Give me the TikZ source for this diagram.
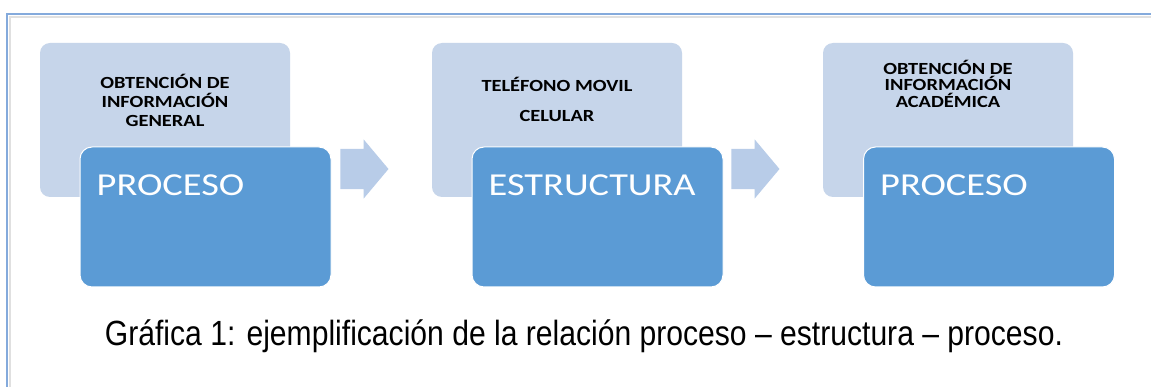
\documentclass[tikz,border=0pt]{standalone}
\usepackage{fontspec}
\usetikzlibrary{positioning,shapes.arrows}
\newfontfamily\calibfont[FakeStretch=1.2]{Carlito}
\newfontfamily\captfont[FakeStretch=0.86]{Liberation Sans}
\definecolor{litefill}{RGB}{198,213,234}
\definecolor{darkfill}{RGB}{91,155,213}
\definecolor{arrowfill}{RGB}{184,204,232}
\definecolor{framecol}{RGB}{132,170,220}
\tikzset{
  litebox/.style={fill=litefill, rounded corners=10pt, minimum width=250pt, minimum height=154pt, inner sep=0pt},
  darkbox/.style={fill=darkfill, draw=white, line width=1pt, rounded corners=12pt, minimum width=251pt, minimum height=140pt, inner sep=0pt},
  litetext/.style={font=\calibfont\bfseries\fontsize{17}{19}\selectfont, align=center, inner sep=0pt},
  darktext/.style={font=\calibfont\fontsize{32}{32}\selectfont, text=white, inner sep=0pt, anchor=base west},
  blockarrow/.style={single arrow, fill=arrowfill, inner sep=0pt, text height=20pt, text depth=20pt, minimum height=48pt, single arrow head extend=9.5pt, single arrow tip angle=100}
}
\begin{document}
\begin{tikzpicture}[x=1pt, y=-1pt]
    \clip (0,0) rectangle (1151,387);
    \fill[white] (0,0) rectangle (1151,387);
    % frame
    \draw[black!12, line width=2pt] (10,400) -- (10,17) -- (1160,17);
    \draw[framecol, line width=1.8pt] (7,400) -- (7,14) -- (1160,14);
    % light boxes
    \node[litebox] (lite1) at (165,120) {};
    \node[litebox] (lite2) at (557,120) {};
    \node[litebox] (lite3) at (948,120) {};
    \node[litetext, below=31pt of lite1.north] (txt1) {OBTENCIÓN DE\\INFORMACIÓN\\GENERAL};
    \node[litetext, below=34pt of lite2.north] (txt2) {TELÉFONO MOVIL\\[11pt]CELULAR};
    \node[litetext, below=17pt of lite3.north, font=\calibfont\bfseries\fontsize{17}{16.5}\selectfont] (txt3) {OBTENCIÓN DE\\INFORMACIÓN\\ACADÉMICA};
    % dark boxes
    \node[darkbox] (dark1) at (205.5,217) {};
    \node[darkbox] (dark2) at (597.5,217) {};
    \node[darkbox] (dark3) at (989,217) {};
    \node[darktext] (lbl1) at ([shift={(17,49)}]dark1.north west) {PROCESO};
    \node[darktext] (lbl2) at ([shift={(17,49)}]dark2.north west) {ESTRUCTURA};
    \node[darktext] (lbl3) at ([shift={(17,49)}]dark3.north west) {PROCESO};
    % arrows
    \node[blockarrow] (arr1) at (356,169) {};
    \node[blockarrow] (arr2) at (747,169) {};
    % caption
    \node[font=\captfont\fontsize{35}{35}\selectfont, anchor=base, inner sep=0pt] (capt) at (584,345) {Gráfica 1: ejemplificación de la relación proceso – estructura – proceso.};
\end{tikzpicture}
\end{document}
